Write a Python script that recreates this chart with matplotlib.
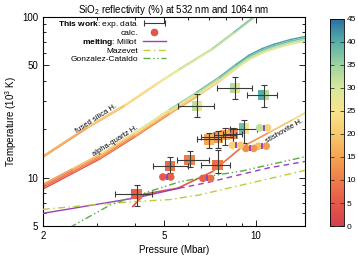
import numpy as np
import matplotlib
matplotlib.use('Agg')
import matplotlib.pyplot as plt
from matplotlib.colors import LinearSegmentedColormap, Normalize
from matplotlib.collections import LineCollection
from matplotlib.lines import Line2D
from matplotlib.legend_handler import HandlerErrorbar
from matplotlib.ticker import FixedLocator, FixedFormatter, NullFormatter
import matplotlib.cm as cm

plt.rcParams['font.family'] = ['Liberation Sans', 'DejaVu Sans']
plt.rcParams['mathtext.fontset'] = 'custom'
plt.rcParams['mathtext.rm'] = 'Liberation Sans'
plt.rcParams['mathtext.bf'] = 'Liberation Sans:bold'
plt.rcParams['mathtext.it'] = 'Liberation Sans:italic'

# colour scale (reflectivity %)
cb_vals = [0, 5, 10, 15, 20, 25, 30, 35, 40, 45]
cb_cols = ['#d6404e', '#e4594a', '#ef7d47', '#f5a453', '#f8c96b',
           '#f6e48f', '#d8e89a', '#9ed3a0', '#56b0a8', '#2a6ea5']

# Hugoniots: pressure (Mbar), temperature (10^3 K), reflectivity along curve
fused_P = [2.0, 2.8, 3.7, 4.7, 5.6, 7.2, 8.5, 9.9]
fused_T = [13.5, 20.5, 28, 38, 47, 63, 80, 100]
fused_R532 = [14, 18, 22, 26, 30, 34, 37, 40]
fused_R1064 = [12, 16, 20, 24, 27, 30, 32, 34]

quartz_P = [2.0, 2.5, 3.07, 4.0, 5.2, 6.4, 7.6, 8.6, 9.5, 10.5, 11.5, 13.0, 14.5]
quartz_T = [8.8, 11.0, 13.5, 18.5, 25.7, 33, 41, 49, 56, 61.5, 65.5, 70, 73]
quartz_R = [[3, 4, 6, 9, 13, 18, 22, 24, 26, 27, 27, 28, 28],
            [6, 8, 10, 14, 18, 24, 28, 30, 32, 33, 33, 33, 33],
            [9, 12, 15, 20, 26, 31, 34, 36, 37, 38, 38, 38, 38],
            [12, 16, 20, 26, 32, 36, 39, 40, 41, 41, 41, 41, 41]]
quartz_shift = [0.965, 0.988, 1.011, 1.034]

stish_P = [3.94, 4.3, 5.54, 7.2, 9.0, 11.0, 13.2, 14.5]
stish_T = [6.6, 7.9, 8.6, 10.9, 15.5, 19.0, 22.9, 25.3]
stish_R = [2, 3, 4, 6, 10, 16, 22, 24]

# melting curves
millot_P = [2.0, 4.06, 5.6]
millot_T = [6.0, 7.5, 8.6]
millot_ext_P = [5.6, 6.9, 8.8, 11.0, 14.5]
millot_ext_T = [8.6, 9.3, 10.4, 11.5, 12.6]
mazevet_P = [2.0, 2.85, 4.0, 5.2, 6.5, 9.0, 14.5]
mazevet_T = [6.35, 6.75, 7.1, 7.3, 7.8, 9.0, 11.1]
gonz_P = [2.45, 3.32, 4.37, 5.6, 7.0, 9.0, 14.5]
gonz_T = [4.9, 6.75, 8.1, 9.4, 10.2, 11.0, 13.5]

# experimental data
exp_P = [4.06, 5.22, 6.06, 7.49, 7.0, 7.5, 7.9, 8.4, 9.12, 6.40, 8.52, 10.6]
exp_T = [7.9, 11.8, 12.9, 12.0, 17.3, 17.8, 18.5, 18.8, 20.2, 27.9, 36.2, 32.7]
exp_Plo = [3.44, 4.6, 5.5, 6.6, 6.4, 6.6, 7.3, 7.8, 8.2, 5.54, 7.45, 9.35]
exp_Phi = [4.55, 5.97, 7.0, 8.2, 7.7, 8.4, 8.6, 9.0, 10.1, 7.3, 9.74, 11.7]
exp_Tlo = [6.7, 10.7, 11.7, 10.7, 15.2, 15.3, 16.0, 16.5, 16.4, 23.9, 31.0, 27.5]
exp_Thi = [9.0, 13.5, 14.6, 14.9, 19.0, 19.6, 20.5, 20.5, 22.8, 33.1, 42.5, 37.7]
exp_R532 = [6, 7, 10, 8, 15, 13, 14, 9, 38, 32, 33, 40]
exp_R1064 = [8, 9, 11, 10, 18, 16, 17, 12, 26, 27, 28, 33]

# calculations
calc_P = [5.1, 6.9, 8.63, 9.55, 10.5, 10.6]
calc_T = [10.1, 9.9, 15.9, 15.2, 15.7, 20.4]
calc_R532 = [5, 6, 22, 12, 19, 32]
calc_R1064 = [6, 8, 20, 13, 14, 22]

cmap = LinearSegmentedColormap.from_list(
    'refl', list(zip(np.array(cb_vals) / 45.0, cb_cols)))
norm = Normalize(0, 45)


def colored_line(ax, P, T, R, lw=1.0):
    pts = np.column_stack([P, T])
    segs = np.stack([pts[:-1], pts[1:]], axis=1)
    R = np.asarray(R, dtype=float)
    rmid = 0.5 * (R[:-1] + R[1:])
    lc = LineCollection(segs, colors=cmap(norm(rmid)), linewidths=lw,
                        capstyle='round', joinstyle='round', zorder=2)
    ax.add_collection(lc)


fig = plt.figure(figsize=(3.58, 2.56), dpi=100)
ax = fig.add_axes([0.120, 0.117, 0.732, 0.817])

ax.set_xscale('log')
ax.set_yscale('log')
ax.set_xlim(2, 14.5)
ax.set_ylim(5, 100)

# Hugoniots
colored_line(ax, fused_P, np.array(fused_T) * 1.012, fused_R532, 0.9)
colored_line(ax, fused_P, np.array(fused_T) * 0.99, fused_R1064, 0.9)
for f, R in zip(quartz_shift, quartz_R):
    colored_line(ax, quartz_P, np.array(quartz_T) * f, R, 1.0)
colored_line(ax, stish_P, stish_T, stish_R, 1.2)

# melting curves
ax.plot(millot_P, millot_T, color='#9b3fbf', lw=1.0, zorder=3)
ax.plot(millot_ext_P, millot_ext_T, color='#9b3fbf', lw=1.0,
        dashes=(4, 3), zorder=3)
ax.plot(mazevet_P, mazevet_T, color='#bfcc3a', lw=1.0,
        dashes=(5, 2.5, 1, 2.5), zorder=3)
ax.plot(gonz_P, gonz_T, color='#5aab48', lw=1.0,
        dashes=(5, 2, 1, 2, 1, 2), zorder=3)

# experimental squares (left half 532 nm, right half 1064 nm)
left_half = [(-1, -1), (0, -1), (0, 1), (-1, 1)]
right_half = [(0, -1), (1, -1), (1, 1), (0, 1)]
ax.scatter(exp_P, exp_T, s=55, c=exp_R532, cmap=cmap, norm=norm,
           marker=left_half, linewidths=0, zorder=4)
ax.scatter(exp_P, exp_T, s=55, c=exp_R1064, cmap=cmap, norm=norm,
           marker=right_half, linewidths=0, zorder=4)
xerr = [np.array(exp_P) - np.array(exp_Plo), np.array(exp_Phi) - np.array(exp_P)]
yerr = [np.array(exp_T) - np.array(exp_Tlo), np.array(exp_Thi) - np.array(exp_T)]
ax.errorbar(exp_P, exp_T, xerr=xerr, yerr=yerr, fmt='none', ecolor='#3a3a3a',
            elinewidth=0.8, capsize=2, capthick=0.8, zorder=5)

# calculations: circle pairs (532 nm left, 1064 nm right)
calc_P = np.array(calc_P)
ax.scatter(calc_P / 1.03, calc_T, s=30, c=calc_R532, cmap=cmap, norm=norm,
           linewidths=0, zorder=6)
ax.scatter(calc_P * 1.03, calc_T, s=30, c=calc_R1064, cmap=cmap, norm=norm,
           linewidths=0, zorder=6)
ax.plot(calc_P, calc_T, ls='none', marker='|', ms=4, mew=1.3,
        color='#8a3fc0', zorder=7)

# labels on Hugoniots
ax.text(0.205, 0.515, 'fused silica H.', transform=ax.transAxes, fontsize=5.5,
        rotation=33, ha='center', va='center')
ax.text(0.275, 0.405, 'alpha-quartz H.', transform=ax.transAxes, fontsize=5.5,
        rotation=32, ha='center', va='center')
ax.text(0.922, 0.455, 'stishovite H.', transform=ax.transAxes, fontsize=5.5,
        rotation=30, ha='center', va='center')

# ticks
ax.xaxis.set_major_locator(FixedLocator([2, 5, 10]))
ax.xaxis.set_major_formatter(FixedFormatter(['2', '5', '10']))
ax.xaxis.set_minor_locator(FixedLocator([3, 4, 6, 7, 8, 9]))
ax.xaxis.set_minor_formatter(NullFormatter())
ax.yaxis.set_major_locator(FixedLocator([5, 10, 50, 100]))
ax.yaxis.set_major_formatter(FixedFormatter(['5', '10', '50', '100']))
ax.yaxis.set_minor_locator(FixedLocator([6, 7, 8, 9, 20, 30, 40, 60, 70, 80, 90]))
ax.yaxis.set_minor_formatter(NullFormatter())
ax.tick_params(which='both', direction='in', top=True, right=True,
               labelsize=7, width=0.6)
ax.tick_params(which='major', length=4)
ax.tick_params(which='minor', length=2.5)
for s in ax.spines.values():
    s.set_linewidth(0.8)

ax.set_xlabel('Pressure (Mbar)', fontsize=7, labelpad=3)
ax.set_ylabel('Temperature (10$^3$ K)', fontsize=7, labelpad=2)
ax.set_title('SiO$_2$ reflectivity (%) at 532 nm and 1064 nm', fontsize=7, pad=3)

# legend
h_exp = ax.errorbar([np.nan], [np.nan], xerr=[[1.0]], fmt='none',
                    ecolor='#3a3a3a', elinewidth=0.8, capsize=2, capthick=0.8)
h_calc = Line2D([], [], ls='none', marker='o', ms=5.5, mew=0,
                color=cmap(norm(4)))
h_mil = Line2D([], [], color='#9b3fbf', lw=1.0)
h_maz = Line2D([], [], color='#bfcc3a', lw=1.0, dashes=(5, 2.5, 1, 2.5))
h_gon = Line2D([], [], color='#5aab48', lw=1.0, dashes=(5, 2, 1, 2, 1, 2))
ax.legend([h_exp, h_calc, h_mil, h_maz, h_gon],
          [r'$\bf{This\ work}$: exp. data', 'calc.', r'$\bf{melting}$: Millot',
           'Mazevet', 'Gonzalez-Cataldo'],
          handler_map={type(h_exp): HandlerErrorbar(xerr_size=1.3)},
          loc='upper right', bbox_to_anchor=(0.47, 0.99), frameon=False,
          fontsize=6, markerfirst=False, handlelength=2.8, handletextpad=0.6,
          labelspacing=-0.05, borderpad=0, borderaxespad=0, numpoints=1)

# colour bar
cax = fig.add_axes([0.921, 0.117, 0.04, 0.81])
cb = fig.colorbar(cm.ScalarMappable(norm=norm, cmap=cmap), cax=cax,
                  ticks=cb_vals)
cb.ax.tick_params(direction='in', length=3, width=0.6, labelsize=6, pad=2,
                  left=True, right=True, color='#333333')
cb.outline.set_linewidth(0.6)

fig.savefig('out.png', dpi=100)
